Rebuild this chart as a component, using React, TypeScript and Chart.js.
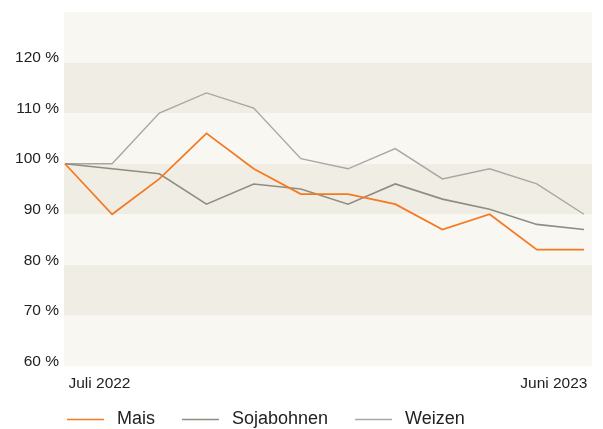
import React, { useEffect, useRef } from "react";
import { Chart, registerables } from "chart.js";

Chart.register(...registerables);

const months = [
  "Juli 2022", "Aug 2022", "Sep 2022", "Okt 2022", "Nov 2022", "Dez 2022",
  "Jan 2023", "Feb 2023", "Mär 2023", "Apr 2023", "Mai 2023", "Juni 2023",
];
const xTickLabels = ["Juli 2022", "Juni 2023"];
const mais = [100, 90, 97, 106, 99, 94, 94, 92, 87, 90, 83, 83];
const sojabohnen = [100, 99, 98, 92, 96, 95, 92, 96, 93, 91, 88, 87];
const weizen = [100, 100, 110, 114, 111, 101, 99, 103, 97, 99, 96, 90];
const yTicks = [60, 70, 80, 90, 100, 110, 120];
const seriesNames = ["Mais", "Sojabohnen", "Weizen"];

const FONT = "Helvetica, Arial, 'Liberation Sans', sans-serif";

const bandsPlugin = {
  id: "bands",
  beforeDraw(chart: any) {
    const { ctx, chartArea, scales } = chart;
    const y = scales.y;
    ctx.save();
    for (let v = 60; v < 130; v += 10) {
      const top = y.getPixelForValue(v + 10);
      const bottom = y.getPixelForValue(v);
      const dark = ((v - 60) / 10) % 2 === 1;
      ctx.fillStyle = dark ? "#f0ede5" : "#f8f7f2";
      ctx.fillRect(chartArea.left, top, chartArea.right - chartArea.left, bottom - top);
    }
    ctx.restore();
  },
};

const legendPlugin = {
  id: "customLegend",
  afterDraw(chart: any) {
    const { ctx } = chart;
    ctx.save();
    ctx.font = `18px ${FONT}`;
    ctx.textBaseline = "middle";
    let x = 67;
    const yc = 419.5;
    chart.data.datasets.forEach((ds: any) => {
      ctx.strokeStyle = ds.borderColor;
      ctx.lineWidth = ds.borderWidth;
      ctx.beginPath();
      ctx.moveTo(x, yc);
      ctx.lineTo(x + 37, yc);
      ctx.stroke();
      ctx.fillStyle = "#222";
      ctx.fillText(ds.label, x + 50, yc);
      const w = ctx.measureText(ds.label).width;
      x = x + 50 + w + 27;
    });
    ctx.restore();
  },
};

export default function App() {
  const ref = useRef<HTMLCanvasElement | null>(null);
  useEffect(() => {
    if (!ref.current) return;
    const toPts = (arr: number[]) => months.map((_, i) => ({ x: i, y: arr[i] }));
    const chart = new Chart(ref.current, {
      type: "line",
      data: {
        datasets: [
          { label: seriesNames[0], data: toPts(mais), borderColor: "#f47920", borderWidth: 1.7, pointRadius: 0, tension: 0 },
          { label: seriesNames[1], data: toPts(sojabohnen), borderColor: "#8f8d80", borderWidth: 1.6, pointRadius: 0, tension: 0 },
          { label: seriesNames[2], data: toPts(weizen), borderColor: "#a9a7a2", borderWidth: 1.4, pointRadius: 0, tension: 0 },
        ],
      },
      options: {
        animation: false,
        responsive: true,
        maintainAspectRatio: false,
        layout: { padding: { top: 12, right: 11, left: 0, bottom: 0 } },
        plugins: { legend: { display: false }, tooltip: { enabled: false } },
        scales: {
          x: {
            type: "linear",
            min: -0.02,
            max: 11.17,
            grid: { display: false, drawTicks: false },
            border: { display: false },
            afterBuildTicks(scale: any) {
              scale.ticks = [{ value: 0 }, { value: months.length - 1 }];
            },
            afterFit(scale: any) {
              scale.height = 63;
              scale.paddingLeft = 0;
              scale.paddingRight = 0;
            },
            ticks: {
              align: "inner",
              maxRotation: 0,
              autoSkip: false,
              padding: 8,
              labelOffset: 3.5,
              color: "#222",
              font: { family: FONT, size: 15.5 },
              callback: (_v: any, i: number) => xTickLabels[i],
            },
          },
          y: {
            min: 60,
            max: 130,
            grid: { display: false, drawTicks: false },
            border: { display: false },
            afterBuildTicks(scale: any) {
              scale.ticks = yTicks.map((v) => ({ value: v }));
            },
            afterFit(scale: any) {
              scale.width = 64;
              scale.paddingTop = 0;
              scale.paddingBottom = 0;
            },
            ticks: {
              padding: 5,
              labelOffset: -4.5,
              color: "#222",
              font: { family: FONT, size: 15.5 },
              callback: (v: any) => `${v} %`,
            },
          },
        },
      },
      plugins: [bandsPlugin, legendPlugin],
    });
    return () => chart.destroy();
  }, []);
  return (
    <div style={{ position: "absolute", left: 0, top: 0, width: 603, height: 429 }}>
      <canvas ref={ref} />
    </div>
  );
}
